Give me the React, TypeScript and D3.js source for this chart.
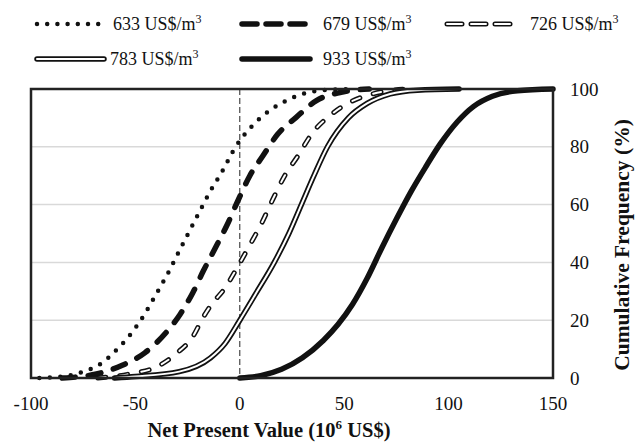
import * as d3 from "d3";

const width = 635;
const height = 444;
const left = 31;
const right = 553;
const top = 89;
const bottom = 378;

// cumulative frequency curves: [NPV (10^6 US$), cumulative %]
const npv633 = [
  [-96, 0], [-84.6, 0.5], [-75, 2.2], [-66.2, 5.1], [-58.3, 10.3], [-51.9, 15.5],
  [-46.3, 21.3], [-40.7, 28.2], [-33.5, 37.5], [-28.7, 44.4], [-24, 51], [-19.2, 57.7],
  [-14.4, 64.3], [-8.8, 71], [-2, 80], [5, 86.5], [12, 91.3], [20.7, 95.4],
  [30, 98.3], [40, 99.6], [55, 100],
];
const npv679 = [
  [-85, 0], [-68.6, 1.4], [-56, 4.5], [-45.5, 8.7], [-35, 16], [-28.7, 21.9],
  [-22.5, 29.5], [-17.5, 37], [-11, 46], [-6.4, 52.5], [-0.8, 61.5], [4.8, 70],
  [11, 76.8], [18.2, 84.4], [27, 90.2], [36.7, 96], [48, 98.8], [62, 100],
];
const npv726 = [
  [-68, 0], [-52.7, 1.4], [-39.7, 3.9], [-30, 8.7], [-22.5, 14.3], [-17.7, 20.8],
  [-14, 25], [-7.2, 31], [-1, 38.5], [4.8, 46], [10.4, 53.5], [15.8, 61.8],
  [21.5, 70], [27.8, 76.8], [35, 85], [43, 90.7], [52.7, 95.4], [63.7, 98.3], [80, 100],
];
const npv783 = [
  [-60, 0], [-50, 0.5], [-29, 2.2], [-14, 7], [-7, 12], [0, 20], [7.5, 29],
  [16.5, 40], [23.5, 50], [29.5, 60], [35.5, 70], [42, 80], [52, 90],
  [61, 95], [72, 98.3], [85, 99.6], [105, 100],
];
const npv933 = [
  [0, 0], [10, 0.8], [20, 3], [30, 7], [40, 13], [47, 18.5], [54, 25.5],
  [61, 34.5], [68, 45], [75, 55], [82, 64.5], [89, 73], [96, 81], [104, 88.5],
  [112, 94], [121, 97.5], [133, 99.4], [150, 100],
];

const labels = ["633", "679", "726", "783", "933"];
const curves = [npv633, npv679, npv726, npv783, npv933];

const xTicks = [-100, -50, 0, 50, 100, 150];
const yTicks = [0, 20, 40, 60, 80, 100];

const font = "'Liberation Serif', 'Times New Roman', serif";

// how each series is stroked (black layer, then optional white inner layer)
const styles = [
  { w: 4.5, dash: "0,10.5", legDash: "0,10.2" },
  { w: 5.5, dash: "13,13", legDash: "15,9" },
  { w: 5, dash: "8,14", legDash: "15,9", inner: 2 },
  { w: 5.5, dash: null, inner: 2 },
  { w: 5.5, dash: null },
];

// legend slots: [x0, x1, y, textX]
const legendPos = [
  [37, 99, 24, 113],
  [242, 310, 24, 323],
  [447, 516, 24, 530],
  [37, 104, 59, 110],
  [242, 310, 59, 323],
];

function Stroke({ d, s, dash }: { d: string; s: any; dash?: string | null }) {
  const da = dash || undefined;
  return (
    <g fill="none" strokeLinecap="round" strokeLinejoin="round">
      <path d={d} stroke="#111" strokeWidth={s.w} strokeDasharray={da} />
      {s.inner && <path d={d} stroke="#fff" strokeWidth={s.inner} strokeDasharray={da} />}
    </g>
  );
}

export default function App() {
  const x = d3.scaleLinear().domain([-100, 150]).range([left, right]);
  const y = d3.scaleLinear().domain([0, 100]).range([bottom, top]);
  const line = d3
    .line<number[]>()
    .x((d) => x(d[0]))
    .y((d) => y(d[1]))
    .curve(d3.curveMonotoneX);

  return (
    <svg
      width={width}
      height={height}
      style={{ position: "absolute", left: 0, top: 0, background: "#fff" }}
      fontFamily={font}
    >
      {/* gridlines */}
      {yTicks.slice(1, -1).map((t) => (
        <line key={t} x1={left} x2={right} y1={y(t)} y2={y(t)} stroke="#d9d9d9" strokeWidth={1.5} />
      ))}
      {/* zero line */}
      <line x1={x(0)} x2={x(0)} y1={top} y2={bottom} stroke="#222" strokeWidth={1} strokeDasharray="6,3" />

      {curves.map((c, i) => (
        <Stroke key={i} d={line(c as any) || ""} s={styles[i]} dash={styles[i].dash} />
      ))}

      {/* frame */}
      <rect x={left} y={top} width={right - left} height={bottom - top} fill="none" stroke="#222" strokeWidth={2.5} />

      {/* x ticks */}
      {xTicks.map((t) => (
        <text key={t} x={x(t)} y={410} textAnchor="middle" fontSize={19} fill="#111">
          {t}
        </text>
      ))}
      {/* y ticks (right side) */}
      {yTicks.map((t) => (
        <text key={t} x={570} y={y(t) + 6.5} textAnchor="start" fontSize={19} fill="#111">
          {t}
        </text>
      ))}

      <text x={269} y={437} textAnchor="middle" fontSize={20.5} fontWeight="bold" fill="#111">
        Net Present Value (10
        <tspan fontSize={13} dy={-8}>6</tspan>
        <tspan dy={8}> US$)</tspan>
      </text>
      <text
        transform="translate(629,245) rotate(-90)"
        textAnchor="middle"
        fontSize={21.5}
        fontWeight="bold"
        fill="#111"
      >
        Cumulative Frequency (%)
      </text>

      {/* legend */}
      {labels.map((lab, i) => {
        const [x0, x1, ly, tx] = legendPos[i];
        return (
          <g key={lab}>
            <Stroke d={`M${x0},${ly}L${x1},${ly}`} s={styles[i]} dash={styles[i].legDash} />
            <text x={tx} y={ly + 6} fontSize={18} fill="#111">
              {lab} US$/m
              <tspan fontSize={12} dy={-7}>3</tspan>
            </text>
          </g>
        );
      })}
    </svg>
  );
}
